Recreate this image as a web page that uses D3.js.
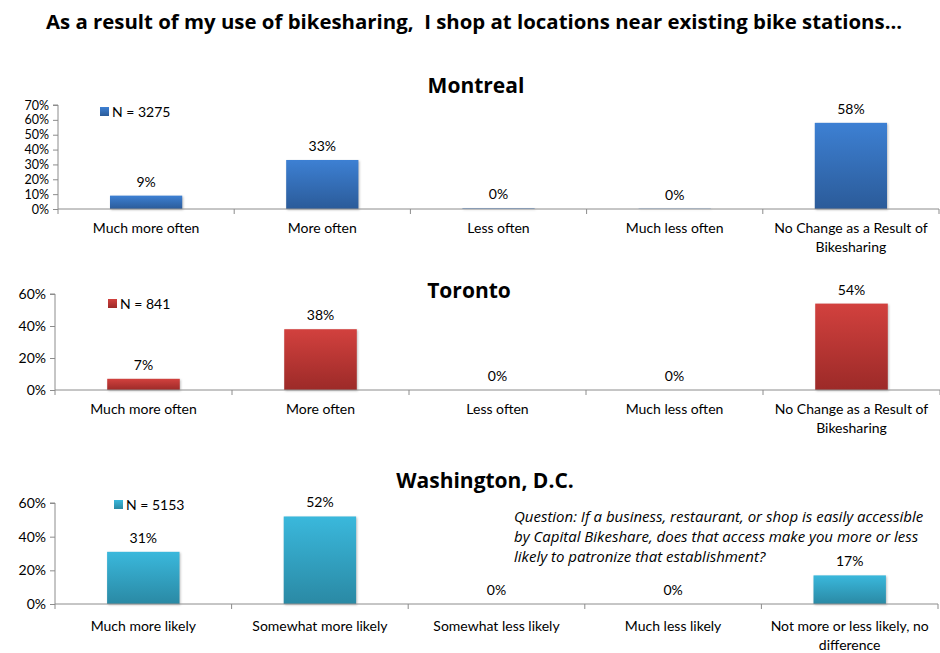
<!DOCTYPE html>
<html>
<head>
<meta charset="utf-8">
<script src="https://cdn.jsdelivr.net/npm/d3@7"></script>
<style>
  body { margin: 0; background: #fff; }
  svg { font-family: Lato, "Open Sans", sans-serif; }
</style>
</head>
<body>
<svg id="chart" width="940" height="653"></svg>
<script>
// data
const oftenCategories = ['Much more often', 'More often', 'Less often', 'Much less often', 'No Change as a Result of Bikesharing'];
const likelyCategories = ['Much more likely', 'Somewhat more likely', 'Somewhat less likely', 'Much less likely', 'Not more or less likely, no difference'];
const montrealValues = [9, 33, 0.4, 0.2, 58];
const montrealLabels = ['9%', '33%', '0%', '0%', '58%'];
const torontoValues = [7, 38, 0, 0, 54];
const torontoLabels = ['7%', '38%', '0%', '0%', '54%'];
const dcValues = [31, 52, 0, 0, 17];
const dcLabels = ['31%', '52%', '0%', '0%', '17%'];
const montrealTicks = [0, 10, 20, 30, 40, 50, 60, 70];
const wideTicks = [0, 20, 40, 60];
const sampleSizes = ['N = 3275', 'N = 841', 'N = 5153'];

const svg = d3.select('#chart');
const defs = svg.append('defs');

// main title
svg.append('text')
  .attr('x', 474).attr('y', 29)
  .attr('text-anchor', 'middle')
  .attr('font-family', '"Open Sans", sans-serif')
  .attr('font-size', '20.4px')
  .attr('font-weight', 'bold')
  .style('white-space', 'pre')
  .text('As a result of my use of bikesharing,  I shop at locations near existing bike stations...');

function drawPanel(opts) {
  const x = d3.scaleBand()
    .domain(opts.categories)
    .range([opts.left, opts.right])
    .paddingInner(0.59)
    .paddingOuter(0.295);

  const y = d3.scaleLinear()
    .domain([0, opts.max])
    .range([opts.bottom, opts.top]);

  // gradient for bars
  const gid = 'grad-' + opts.id;
  const grad = defs.append('linearGradient')
    .attr('id', gid)
    .attr('x1', 0).attr('y1', 0).attr('x2', 0).attr('y2', 1);
  grad.append('stop').attr('offset', '0%').attr('stop-color', opts.colors[0]);
  grad.append('stop').attr('offset', '100%').attr('stop-color', opts.colors[1]);

  const g = svg.append('g');

  // title
  g.append('text')
    .attr('x', opts.titleX).attr('y', opts.titleY)
    .attr('text-anchor', 'middle')
    .attr('font-family', '"Open Sans", sans-serif')
    .attr('font-size', '21px')
    .attr('font-weight', 'bold')
    .text(opts.title);

  // y axis
  const yAxis = g.append('g')
    .attr('transform', `translate(${opts.left},0)`)
    .call(d3.axisLeft(y).tickValues(opts.ticks).tickFormat(d => d + '%').tickSize(5).tickPadding(4));
  yAxis.selectAll('path, line').attr('stroke', '#8c8c8c');
  yAxis.select('.domain').attr('d', `M-5,${opts.top}H0V${opts.bottom}`);
  yAxis.selectAll('text')
    .attr('font-size', opts.tickFont)
    .attr('fill', '#000')
    .attr('font-family', 'Lato, sans-serif');

  // bars
  g.selectAll('rect.bar')
    .data(opts.values)
    .enter()
    .append('rect')
    .attr('class', 'bar')
    .attr('x', (d, i) => x(opts.categories[i]))
    .attr('width', x.bandwidth())
    .attr('y', d => y(d))
    .attr('height', d => opts.bottom - y(d))
    .attr('fill', `url(#${gid})`)
    .attr('filter', 'drop-shadow(1px 1px 1px rgba(0,0,0,0.25))');

  // value labels
  g.selectAll('text.val')
    .data(opts.labels)
    .enter()
    .append('text')
    .attr('class', 'val')
    .attr('x', (d, i) => x(opts.categories[i]) + x.bandwidth() / 2)
    .attr('y', (d, i) => y(opts.values[i]) - 9)
    .attr('text-anchor', 'middle')
    .attr('font-size', '14px')
    .text(d => d);

  // x axis line and ticks at band boundaries
  const step = x.step();
  const bounds = d3.range(opts.categories.length + 1).map(i => opts.left + i * step);
  g.append('line')
    .attr('x1', opts.left).attr('x2', opts.right)
    .attr('y1', opts.bottom).attr('y2', opts.bottom)
    .attr('stroke', '#8c8c8c');
  g.selectAll('line.xt')
    .data(bounds)
    .enter()
    .append('line')
    .attr('class', 'xt')
    .attr('x1', d => d).attr('x2', d => d)
    .attr('y1', opts.bottom).attr('y2', opts.bottom + 5)
    .attr('stroke', '#8c8c8c');

  // category labels (wrapped)
  opts.categories.forEach((c, i) => {
    const lines = opts.wrap[i];
    const t = g.append('text')
      .attr('x', x(c) + x.bandwidth() / 2)
      .attr('y', opts.bottom + opts.labelGap)
      .attr('text-anchor', 'middle')
      .attr('font-size', '14px');
    lines.forEach((ln, k) => {
      t.append('tspan')
        .attr('x', x(c) + x.bandwidth() / 2)
        .attr('dy', k === 0 ? 0 : 19)
        .text(ln);
    });
  });

  // legend
  g.append('rect')
    .attr('x', opts.legendX).attr('y', opts.legendY - 5)
    .attr('width', 9).attr('height', 9)
    .attr('fill', `url(#${gid})`);
  g.append('text')
    .attr('x', opts.legendX + 12).attr('y', opts.legendY + 5)
    .attr('font-size', '14px')
    .text(opts.legend);
}

drawPanel({
  id: 'mtl', title: 'Montreal', titleX: 476, titleY: 93,
  categories: oftenCategories, values: montrealValues, labels: montrealLabels,
  wrap: [['Much more often'], ['More often'], ['Less often'], ['Much less often'], ['No Change as a Result of', 'Bikesharing']],
  ticks: montrealTicks, max: 70, tickFont: '12.5px', labelGap: 24,
  left: 58, right: 939, top: 105, bottom: 209,
  colors: ['#3d80d3', '#2b5b99'],
  legend: sampleSizes[0], legendX: 100, legendY: 112
});

drawPanel({
  id: 'tor', title: 'Toronto', titleX: 469, titleY: 298,
  categories: oftenCategories, values: torontoValues, labels: torontoLabels,
  wrap: [['Much more often'], ['More often'], ['Less often'], ['Much less often'], ['No Change as a Result of', 'Bikesharing']],
  ticks: wideTicks, max: 60, tickFont: '14px', labelGap: 24,
  left: 55, right: 940, top: 294, bottom: 390,
  colors: ['#d2413e', '#9c2a28'],
  legend: sampleSizes[1], legendX: 108, legendY: 304
});

drawPanel({
  id: 'dc', title: 'Washington, D.C.', titleX: 485, titleY: 488,
  categories: likelyCategories, values: dcValues, labels: dcLabels,
  wrap: [['Much more likely'], ['Somewhat more likely'], ['Somewhat less likely'], ['Much less likely'], ['Not more or less likely, no', 'difference']],
  ticks: wideTicks, max: 60, tickFont: '14px', labelGap: 27,
  left: 55, right: 938, top: 503, bottom: 604,
  colors: ['#3ab8dc', '#2a89a4'],
  legend: sampleSizes[2], legendX: 114, legendY: 505
});

// question note
const note = svg.append('text')
  .attr('x', 514).attr('y', 522)
  .attr('font-family', '"Open Sans", sans-serif')
  .attr('font-size', '15px')
  .attr('font-style', 'italic');
['Question: If a business, restaurant, or shop is easily accessible',
 'by Capital Bikeshare, does that access make you more or less',
 'likely to patronize that establishment?'].forEach((ln, k) => {
  note.append('tspan').attr('x', 514).attr('dy', k === 0 ? 0 : 20).text(ln);
});
</script>
</body>
</html>
